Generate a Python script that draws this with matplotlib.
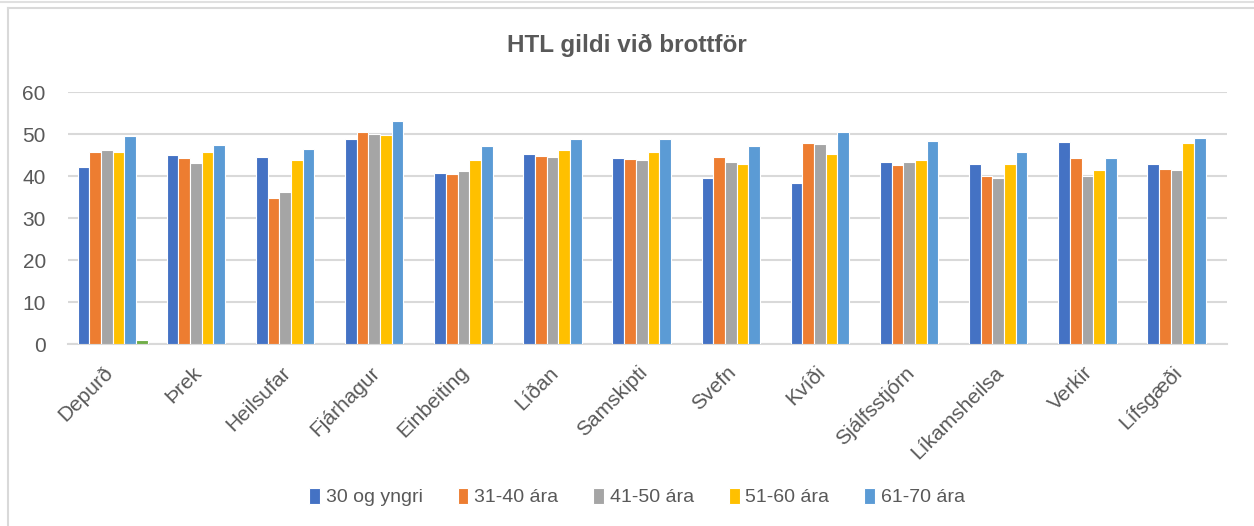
import matplotlib
matplotlib.use("Agg")
import matplotlib.pyplot as plt
import matplotlib.transforms as mtransforms
import numpy as np
from matplotlib.lines import Line2D

plt.rcParams['font.family'] = ['Liberation Sans', 'DejaVu Sans']

# Data
categories = ['Depurð', 'Þrek', 'Heilsufar', 'Fjárhagur', 'Einbeiting', 'Líðan',
              'Samskipti', 'Svefn', 'Kvíði', 'Sjálfsstjórn', 'Líkamsheilsa',
              'Verkir', 'Lífsgæði']
s_30 = [42.2, 44.9, 44.5, 48.8, 40.6, 45.2, 44.4, 39.6, 38.4, 43.4, 42.9, 48.2, 42.9]
s_31_40 = [45.7, 44.2, 34.7, 50.4, 40.4, 44.7, 44.1, 44.6, 47.8, 42.6, 39.9, 44.2, 41.7]
s_41_50 = [46.3, 43.2, 36.1, 49.9, 41.1, 44.5, 43.8, 43.4, 47.6, 43.4, 39.6, 40.0, 41.5]
s_51_60 = [45.7, 45.6, 43.8, 49.7, 43.8, 46.1, 45.7, 42.9, 45.2, 43.7, 42.8, 41.4, 47.9]
s_61_70 = [49.5, 47.3, 46.4, 53.1, 47.2, 48.9, 48.8, 47.2, 50.4, 48.3, 45.6, 44.2, 49.1]
s_71 = [1.0, 0, 0, 0, 0, 0, 0, 0, 0, 0, 0, 0, 0]

series = [s_30, s_31_40, s_41_50, s_51_60, s_61_70, s_71]
labels = ['30 og yngri', '31-40 ára', '41-50 ára', '51-60 ára', '61-70 ára', None]
colors = ['#4472C4', '#ED7D31', '#A5A5A5', '#FFC000', '#5B9BD5', '#70AD47']

fig = plt.figure(figsize=(12.54, 5.26), dpi=100)
ax = fig.add_axes([68 / 1254, 1 - 344 / 526, (1227 - 68) / 1254, (344 - 92) / 526])

x = np.arange(len(categories))
slot = 0.131
n = len(series)
for i, (vals, lab, col) in enumerate(zip(series, labels, colors)):
    offs = (i - (n - 1) / 2) * slot
    v = np.array(vals, dtype=float)
    v = np.where(v == 0, np.nan, v)
    ax.bar(x + offs, v, width=slot, color=col, edgecolor='white', linewidth=0.8,
           label=lab if lab else '_nolegend_', zorder=3)

ax.set_xlim(-0.5, len(categories) - 0.5)
ax.set_ylim(0, 60)
ax.set_yticks(range(0, 61, 10))
ax.yaxis.grid(True, color='#D9D9D9', linewidth=1.5, zorder=0)
for sp in ['top', 'right', 'left']:
    ax.spines[sp].set_visible(False)
ax.spines['bottom'].set_color('#D9D9D9')
ax.spines['bottom'].set_linewidth(1.5)
ax.tick_params(axis='both', length=0, labelsize=15, colors='#595959')
ax.tick_params(axis='y', pad=16)
ax.set_xticks(x)
ax.set_xticklabels(categories, rotation=45, ha='right', rotation_mode='anchor')
shift = mtransforms.ScaledTranslation(-0.10, -0.14, fig.dpi_scale_trans)
for t in ax.get_xticklabels():
    t.set_transform(t.get_transform() + shift)

fig.text(0.5, 1 - 45 / 526, 'HTL gildi við brottför', ha='center', va='center',
         fontsize=17.5, fontweight='bold', color='#595959')

leg = fig.legend(loc='center', bbox_to_anchor=(0.508, 1 - 497 / 526), ncol=5,
                 frameon=False, fontsize=14, handlelength=0.55, handleheight=0.9,
                 handletextpad=0.3, columnspacing=1.8)
for t in leg.get_texts():
    t.set_color('#595959')

# chart frame
fig.add_artist(Line2D([8 / 1254, 8 / 1254], [0, 1 - 8 / 526], transform=fig.transFigure,
                      color='#D9D9D9', linewidth=1.5))
fig.add_artist(Line2D([8 / 1254, 1], [1 - 8 / 526, 1 - 8 / 526], transform=fig.transFigure,
                      color='#D9D9D9', linewidth=1.5))
fig.add_artist(Line2D([0, 1], [1 - 2 / 526, 1 - 2 / 526], transform=fig.transFigure,
                      color='#E0E0E0', linewidth=1.5))

fig.savefig('out.png', dpi=100)
